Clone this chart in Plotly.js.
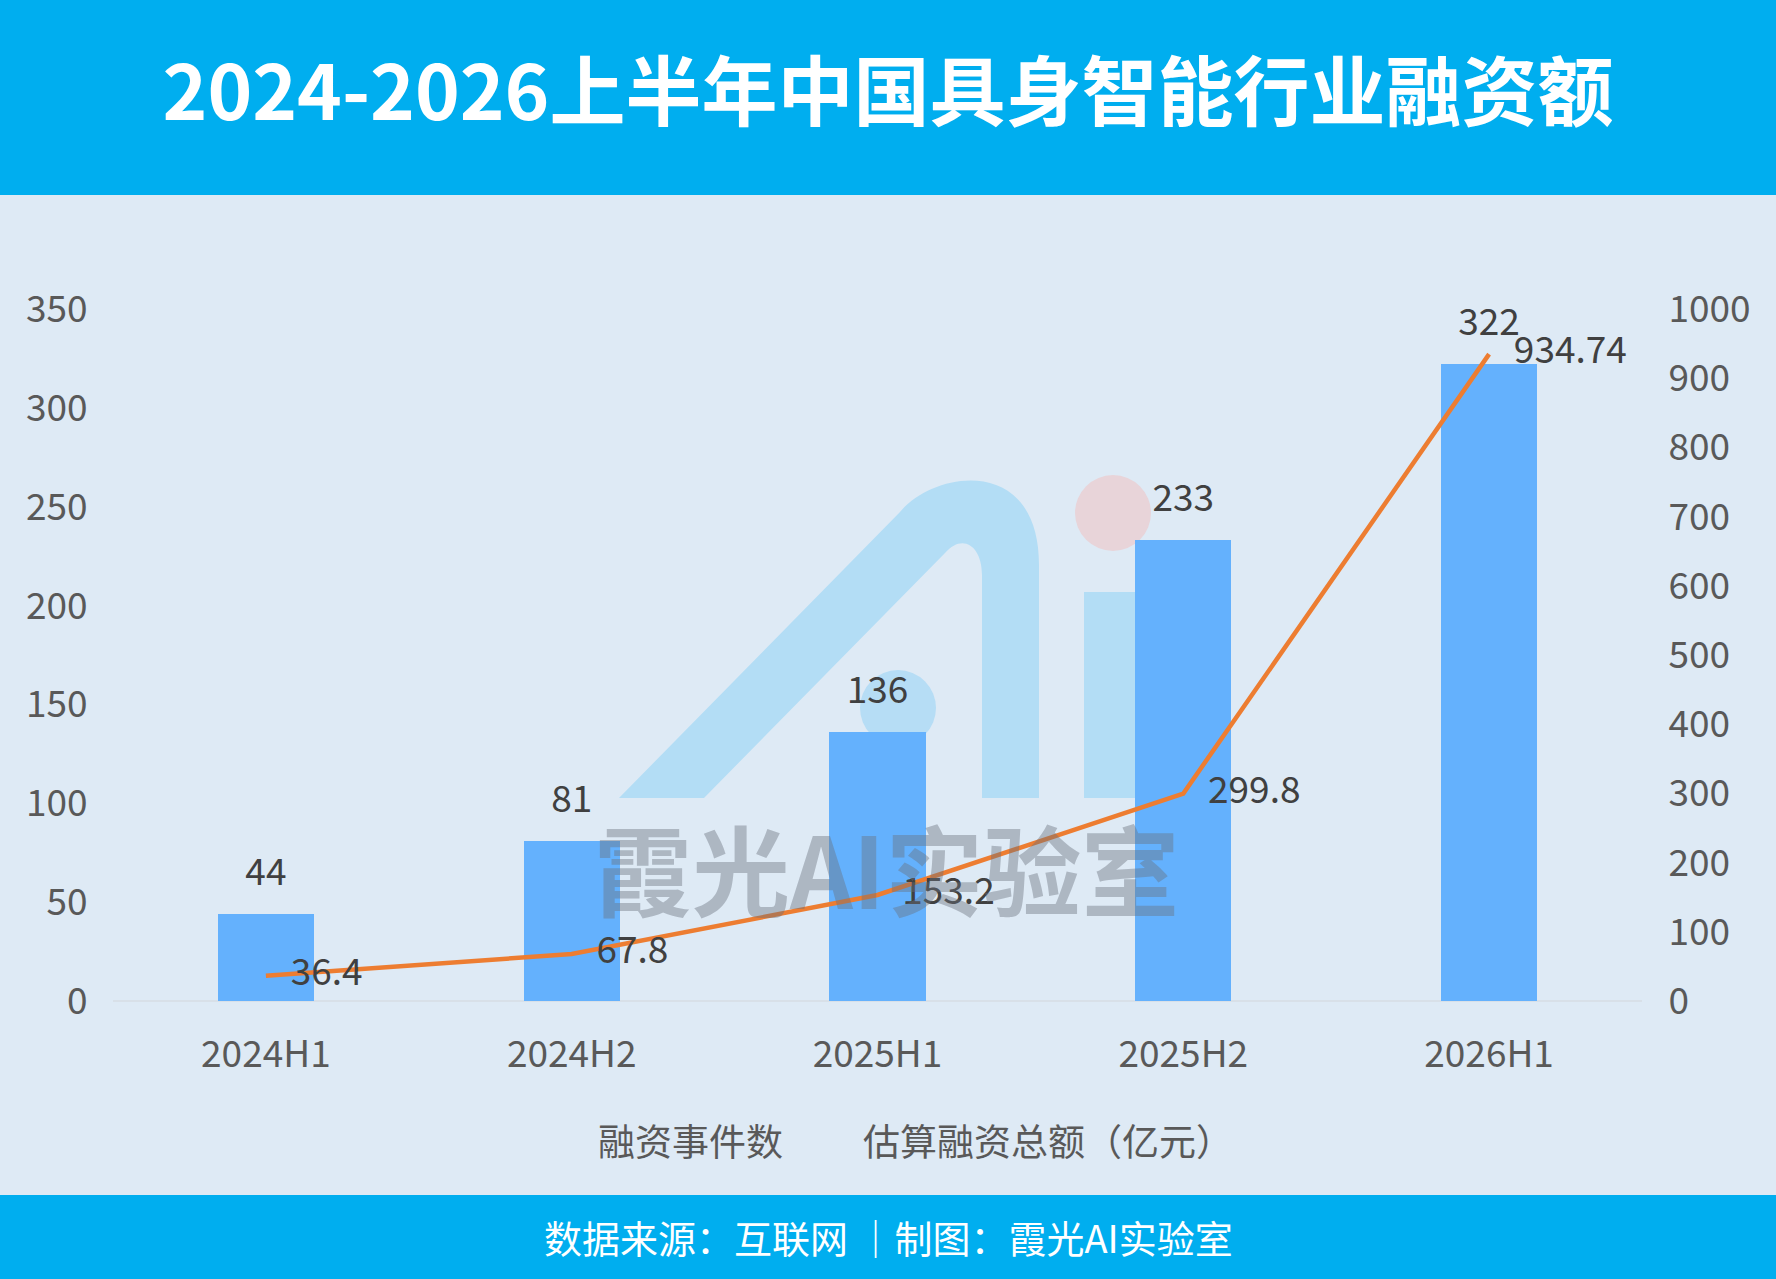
<!DOCTYPE html>
<html>
<head>
<meta charset="utf-8">
<script src="https://cdn.plot.ly/plotly-3.0.1.min.js"></script>
<style>html,body{margin:0;padding:0;background:#DEEAF5;}#chart{width:1776px;height:1279px;}</style>
</head>
<body>
<div id="chart"></div>
<script>
// ---- data ----
const categories = ["2024H1", "2024H2", "2025H1", "2025H2", "2026H1"];
const eventCounts = [44, 81, 136, 233, 322];
const fundingAmounts = [36.4, 67.8, 153.2, 299.8, 934.74];
const countName = "融资事件数";
const amountName = "估算融资总额（亿元）";
const leftTicks = [0, 50, 100, 150, 200, 250, 300, 350];
const rightTicks = [0, 100, 200, 300, 400, 500, 600, 700, 800, 900, 1000];
const titleText = "2024-2026上半年中国具身智能行业融资额";
const footerText = "数据来源：互联网 ｜制图：霞光AI实验室";
const watermarkText = "霞光AI实验室";

// ---- layout geometry ----
const W = 1776, H = 1279;
const M = {l: 113, r: 134, t: 309, b: 278};
const PW = W - M.l - M.r, PH = H - M.t - M.b;
const px = v => (v - M.l) / PW;
const py = v => (H - M.b - v) / PH;
const FONT = "Noto Sans CJK SC, Noto Sans, sans-serif";

const barTrace = {
  type: "bar", x: categories, y: eventCounts, name: countName,
  marker: {color: "#64B1FD"}, width: 0.315, hoverinfo: "skip", showlegend: false
};
const barLabels = {
  type: "scatter", mode: "markers+text", x: categories, y: eventCounts,
  text: eventCounts.map(String), textposition: "top center",
  marker: {size: 30, color: "rgba(0,0,0,0)"},
  textfont: {size: 37, color: "#404040", family: FONT},
  hoverinfo: "skip", showlegend: false, cliponaxis: false
};
const lineTrace = {
  type: "scatter", mode: "lines+markers+text", x: categories, y: fundingAmounts, yaxis: "y2",
  name: amountName, line: {color: "#ED7D31", width: 4.5},
  marker: {size: 38, color: "rgba(0,0,0,0)"},
  text: fundingAmounts.map(String), textposition: "middle right",
  textfont: {size: 37, color: "#404040", family: FONT},
  hoverinfo: "skip", showlegend: false, cliponaxis: false
};

const shapes = [
  // header & footer bands
  {type: "rect", xref: "paper", yref: "paper", x0: px(0), x1: px(W), y0: py(0), y1: py(195), fillcolor: "#00AEEF", line: {width: 0}, layer: "below"},
  {type: "rect", xref: "paper", yref: "paper", x0: px(0), x1: px(W), y0: py(1195), y1: py(H), fillcolor: "#00AEEF", line: {width: 0}, layer: "below"},
  // watermark logo "A" arc
  {type: "path", xref: "paper", yref: "paper", layer: "below", fillcolor: "#B3DDF5", line: {width: 0},
   path: `M ${px(619)} ${py(798)} L ${px(900)} ${py(512)} C ${px(935)} ${py(470)} ${px(1039)} ${py(455)} ${px(1039)} ${py(565)} L ${px(1039)} ${py(798)} L ${px(982)} ${py(798)} L ${px(982)} ${py(575)} C ${px(982)} ${py(545)} ${px(962)} ${py(533)} ${px(945)} ${py(553)} L ${px(704)} ${py(798)} Z`},
  // "i" stem
  {type: "rect", xref: "paper", yref: "paper", layer: "below", fillcolor: "#B3DDF5", line: {width: 0},
   x0: px(1084), x1: px(1140), y0: py(798), y1: py(592)},
  // pink dot
  {type: "circle", xref: "paper", yref: "paper", layer: "below", fillcolor: "#E8D4D9", line: {width: 0},
   x0: px(1075), x1: px(1151), y0: py(551), y1: py(475)},
  // small blue dot
  {type: "circle", xref: "paper", yref: "paper", layer: "below", fillcolor: "#B6DDF5", line: {width: 0},
   x0: px(860), x1: px(936), y0: py(746), y1: py(670)},
  // baseline
  {type: "line", xref: "paper", yref: "paper", x0: 0, x1: 1, y0: 0, y1: 0, line: {color: "#D6DCE3", width: 1.5}, layer: "below"}
];

const annotations = [
  {xref: "paper", yref: "paper", x: px(886), y: py(866), text: "<b>" + watermarkText + "</b>", showarrow: false,
   xanchor: "center", yanchor: "middle", font: {size: 98, color: "rgba(105,112,125,0.42)", family: FONT}},
  {xref: "paper", yref: "paper", x: px(690), y: py(1140), text: countName, showarrow: false,
   xanchor: "center", yanchor: "middle", font: {size: 37, color: "#595959", family: FONT}},
  {xref: "paper", yref: "paper", x: px(1048), y: py(1140), text: amountName, showarrow: false,
   xanchor: "center", yanchor: "middle", font: {size: 37, color: "#595959", family: FONT}},
  {xref: "paper", yref: "paper", x: px(888), y: py(1236), text: footerText, showarrow: false,
   xanchor: "center", yanchor: "middle", font: {size: 38, color: "#FFFFFF", family: FONT}}
];

const layout = {
  width: W, height: H,
  margin: M,
  paper_bgcolor: "#DEEAF5", plot_bgcolor: "rgba(0,0,0,0)",
  title: {text: "<b>" + titleText + "</b>", x: 0.5, xanchor: "center", y: 1 - 93 / H, yanchor: "middle",
          font: {size: 76, color: "#FFFFFF", family: FONT}},
  showlegend: false,
  bargap: 0,
  xaxis: {type: "category", categoryarray: categories, showgrid: false, zeroline: false, showline: false,
          ticks: "outside", ticklen: 21, tickcolor: "rgba(0,0,0,0)",
          tickfont: {size: 37, color: "#595959", family: FONT}, fixedrange: true},
  yaxis: {range: [0, 350], tickvals: leftTicks, showgrid: false, zeroline: false, showline: false,
          ticks: "outside", ticklen: 17, tickcolor: "rgba(0,0,0,0)",
          tickfont: {size: 37, color: "#595959", family: FONT}, fixedrange: true},
  yaxis2: {range: [0, 1000], tickvals: rightTicks, overlaying: "y", side: "right", showgrid: false, zeroline: false, showline: false,
           ticks: "outside", ticklen: 18, tickcolor: "rgba(0,0,0,0)",
           tickfont: {size: 37, color: "#595959", family: FONT}, fixedrange: true},
  shapes: shapes,
  annotations: annotations
};

Plotly.newPlot("chart", [barTrace, barLabels, lineTrace], layout, {displayModeBar: false, staticPlot: true});
</script>
</body>
</html>
